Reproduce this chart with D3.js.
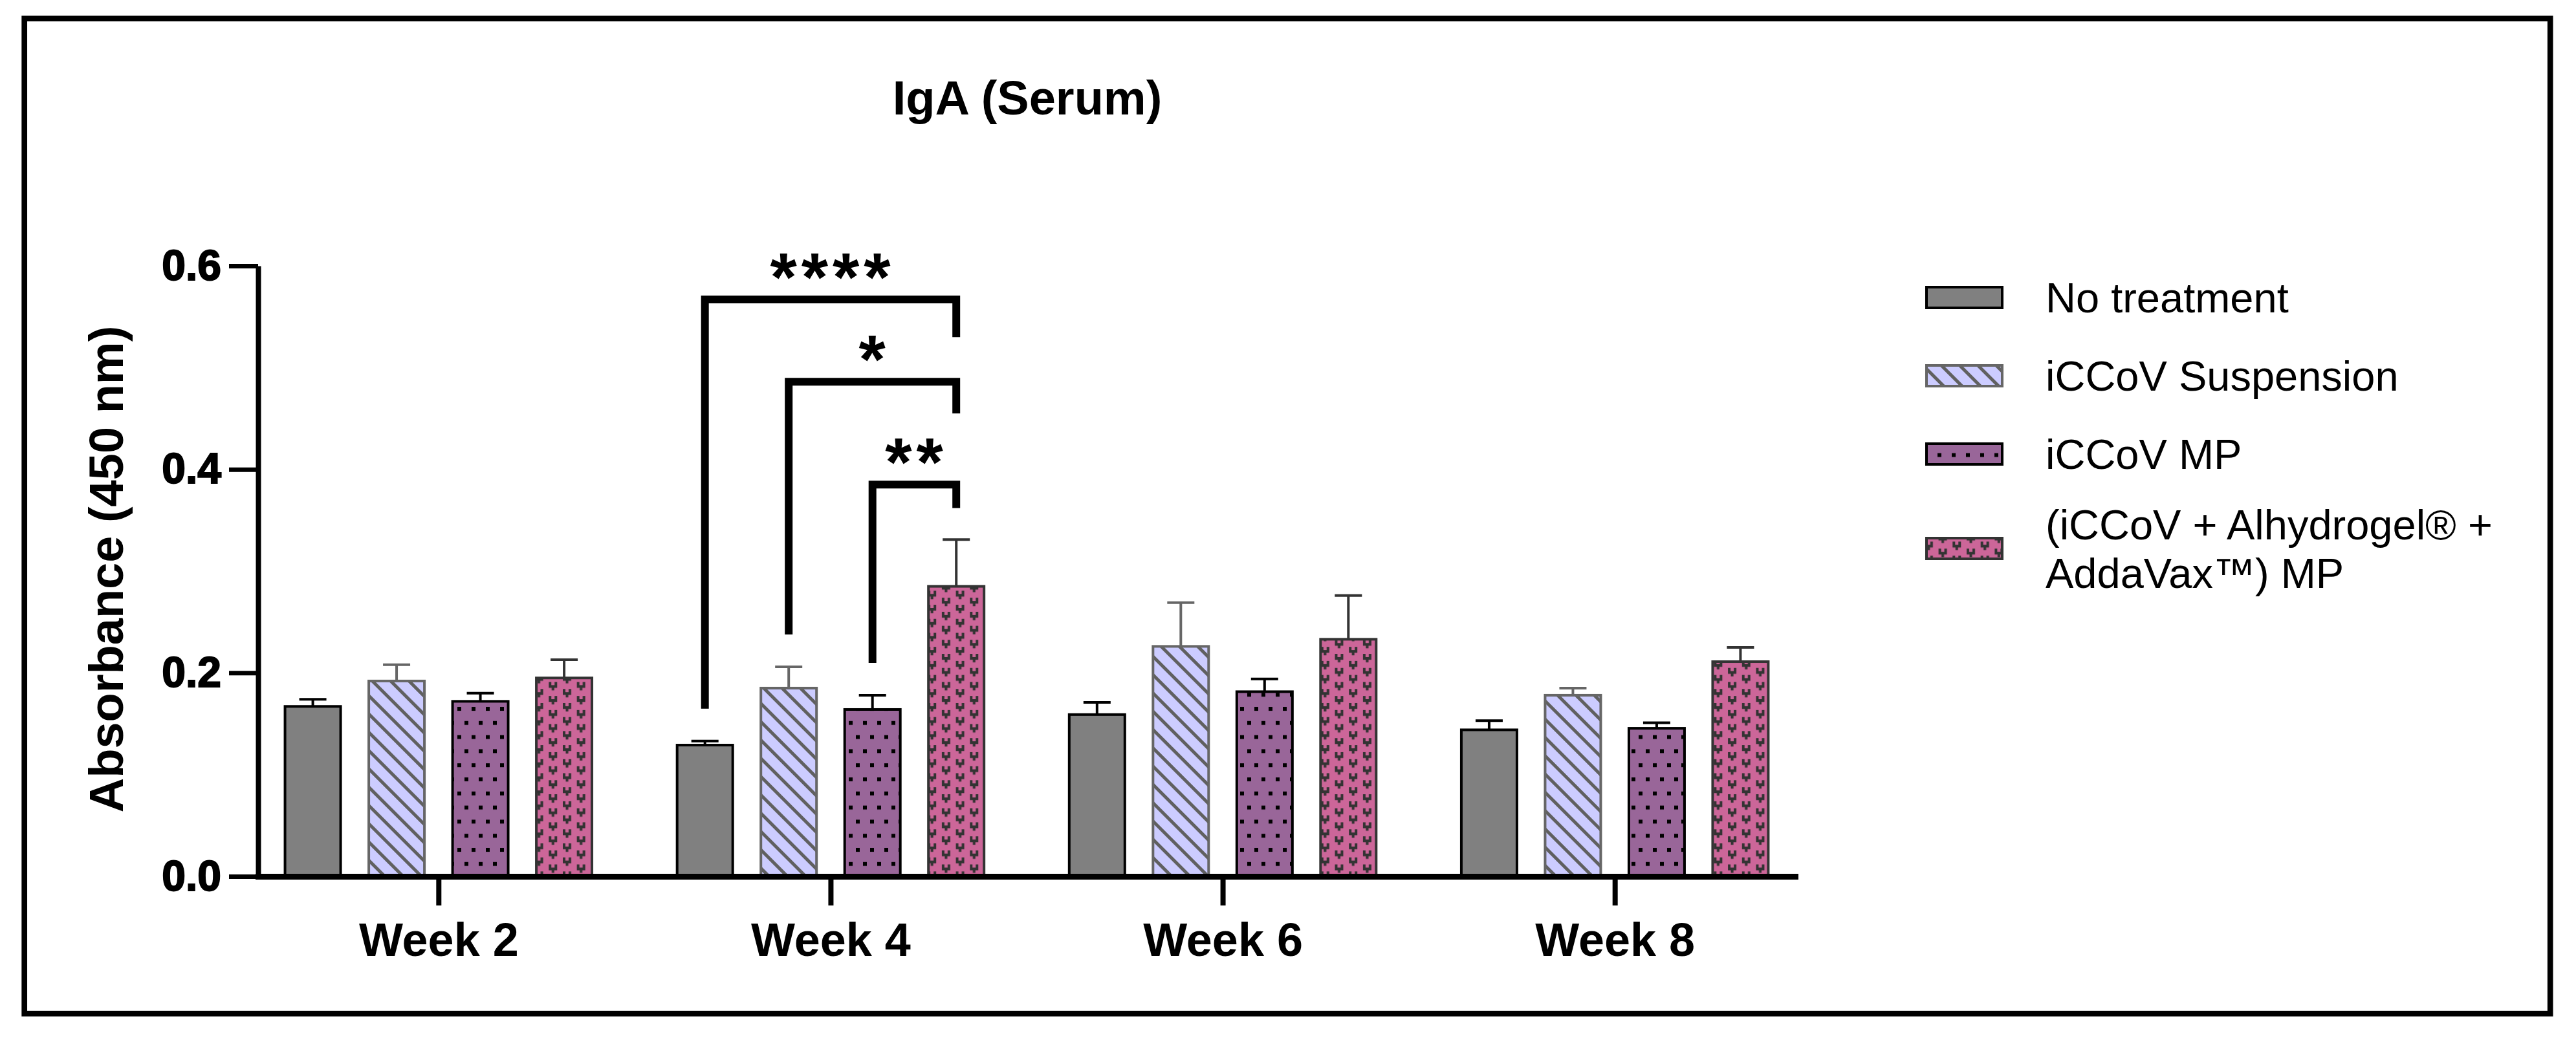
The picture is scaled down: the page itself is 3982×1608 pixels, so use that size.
<!DOCTYPE html>
<html>
<head>
<meta charset="utf-8">
<script src="https://cdn.jsdelivr.net/npm/d3@7"></script>
<style>
  html, body { margin: 0; padding: 0; background: #fff; }
  svg text { font-family: "Liberation Sans", Arial, sans-serif; }
</style>
</head>
<body>
<svg id="chart" width="3982" height="1608"></svg>
<script>
// data
const weeks = ["Week 2", "Week 4", "Week 6", "Week 8"];
const groups = ["No treatment", "iCCoV Suspension", "iCCoV MP", "(iCCoV + Alhydrogel® + AddaVax™) MP"];
const legendLines = [["No treatment"], ["iCCoV Suspension"], ["iCCoV MP"], ["(iCCoV + Alhydrogel® +", "AddaVax™) MP"]];

const noTreatment   = [0.167, 0.129, 0.159, 0.144];
const suspension    = [0.192, 0.185, 0.226, 0.178];
const mp            = [0.172, 0.164, 0.1815, 0.1455];
const adjuvantMp    = [0.195, 0.285, 0.233, 0.211];

const noTreatmentSd = [0.007, 0.004, 0.012, 0.009];
const suspensionSd  = [0.016, 0.021, 0.043, 0.007];
const mpSd          = [0.008, 0.014, 0.0125, 0.0055];
const adjuvantMpSd  = [0.018, 0.046, 0.043, 0.014];

const yTicks = [0, 0.2, 0.4, 0.6];

// significance brackets (level / tip in absorbance units)
const comparisons = [
  { week: "Week 4", from: "No treatment",     to: groups[3], label: "****", level: 0.567, tip: 0.530 },
  { week: "Week 4", from: "iCCoV Suspension", to: groups[3], label: "*",    level: 0.486, tip: 0.455 },
  { week: "Week 4", from: "iCCoV MP",         to: groups[3], label: "**",   level: 0.385, tip: 0.362 }
];

const means = [noTreatment, suspension, mp, adjuvantMp];
const sds = [noTreatmentSd, suspensionSd, mpSd, adjuvantMpSd];

// look of each series
const styles = [
  { fill: "#808080",        stroke: "#000000", err: "#000000" },
  { fill: "url(#stripes)",  stroke: "#666666", err: "#666666" },
  { fill: "url(#dots)",     stroke: "#000000", err: "#000000" },
  { fill: "url(#antibody)", stroke: "#333333", err: "#333333" }
];

const svg = d3.select("#chart");

// patterns
const defs = svg.append("defs");
const stripes = defs.append("pattern").attr("id", "stripes")
  .attr("patternUnits", "userSpaceOnUse").attr("width", 20).attr("height", 20)
  .attr("patternTransform", "rotate(-45)");
stripes.append("rect").attr("width", 20).attr("height", 20).attr("fill", "#ccccff");
stripes.append("rect").attr("width", 5).attr("height", 20).attr("fill", "#606060");

const dots = defs.append("pattern").attr("id", "dots")
  .attr("patternUnits", "userSpaceOnUse").attr("width", 22).attr("height", 43.6);
dots.append("rect").attr("width", 22).attr("height", 43.6).attr("fill", "#996699");
dots.append("rect").attr("x", 3).attr("y", 3).attr("width", 6).attr("height", 6).attr("fill", "#000");
dots.append("rect").attr("x", 14).attr("y", 24.8).attr("width", 6).attr("height", 6).attr("fill", "#000");

const ab = defs.append("pattern").attr("id", "antibody")
  .attr("patternUnits", "userSpaceOnUse").attr("width", 43.4).attr("height", 21.7);
ab.append("rect").attr("width", 43.4).attr("height", 21.7).attr("fill", "#cc6699");
const glyph = "M0,0h4v5h5v-5h4v9h-4.5v4h-4v-4h-4.5z";
[[2, 2], [23.7, 12.85], [23.7, -8.85]].forEach(p => {
  ab.append("path").attr("d", glyph).attr("fill", "#333").attr("transform", `translate(${p[0]},${p[1]})`);
});

// frame
svg.append("rect").attr("x", 37.7).attr("y", 28.7).attr("width", 3904.5).attr("height", 1538.5)
  .attr("fill", "none").attr("stroke", "#000").attr("stroke-width", 8.7);

// scales
const y = d3.scaleLinear().domain([0, 0.6]).range([1355, 411]);
const x = d3.scalePoint().domain(weeks).range([399, 2775]).padding(0.46);
const xs = d3.scaleBand().domain(groups).range([-259, 259]).paddingInner(0.336).paddingOuter(0.168);

// title
svg.append("text").attr("x", 1588).attr("y", 177).attr("text-anchor", "middle")
  .attr("font-size", 74).attr("font-weight", "bold").text("IgA (Serum)");

// y label
svg.append("text").attr("transform", "translate(190,880) rotate(-90)").attr("text-anchor", "middle")
  .attr("font-size", 74).attr("font-weight", "bold").text("Absorbance (450 nm)");

// bars
const rows = weeks.flatMap((w, i) => groups.map((g, j) => ({ week: w, group: g, j: j, mean: means[j][i], sd: sds[j][i] })));

svg.append("g").selectAll("rect").data(rows).join("rect")
  .attr("x", d => x(d.week) + xs(d.group))
  .attr("y", d => y(d.mean))
  .attr("width", xs.bandwidth())
  .attr("height", d => y(0) - y(d.mean))
  .attr("fill", d => styles[d.j].fill)
  .attr("stroke", d => styles[d.j].stroke)
  .attr("stroke-width", 4);

// error bars (upper only)
const eb = svg.append("g").selectAll("g").data(rows).join("g")
  .attr("stroke", d => styles[d.j].err).attr("stroke-width", 4);
eb.append("line")
  .attr("x1", d => x(d.week) + xs(d.group) + xs.bandwidth() / 2)
  .attr("x2", d => x(d.week) + xs(d.group) + xs.bandwidth() / 2)
  .attr("y1", d => y(d.mean)).attr("y2", d => y(d.mean + d.sd));
eb.append("line")
  .attr("x1", d => x(d.week) + xs(d.group) + xs.bandwidth() / 2 - 21)
  .attr("x2", d => x(d.week) + xs(d.group) + xs.bandwidth() / 2 + 21)
  .attr("y1", d => y(d.mean + d.sd)).attr("y2", d => y(d.mean + d.sd));

// axes
const yAxis = svg.append("g").attr("transform", "translate(399,0)")
  .call(d3.axisLeft(y).tickValues(yTicks).tickFormat(d3.format(".1f")).tickSize(45).tickSizeOuter(0).tickPadding(12));
yAxis.select(".domain").attr("stroke-width", 8);
yAxis.selectAll(".tick line").attr("stroke-width", 7);
yAxis.selectAll(".tick text").attr("font-size", 66).attr("font-weight", "bold")
  .attr("font-family", "'Liberation Sans', Arial, sans-serif").attr("stroke", "#000").attr("stroke-width", 2);

const xAxis = svg.append("g").attr("transform", "translate(0,1355)")
  .call(d3.axisBottom(x).tickSize(45).tickSizeOuter(0).tickPadding(27));
xAxis.select(".domain").attr("stroke-width", 9).attr("stroke-linecap", "square");
xAxis.selectAll(".tick line").attr("stroke-width", 8);
xAxis.selectAll(".tick text").attr("font-size", 72).attr("font-weight", "bold")
  .attr("font-family", "'Liberation Sans', Arial, sans-serif");

// significance brackets
const centerOf = (w, g) => x(w) + xs(g) + xs.bandwidth() / 2;
const topOf = (w, g) => {
  const i = weeks.indexOf(w), j = groups.indexOf(g);
  return y(means[j][i] + sds[j][i]);
};
const br = svg.append("g");
comparisons.forEach(c => {
  const xl = centerOf(c.week, c.from), xr = centerOf(c.week, c.to);
  const yb = y(c.level);
  br.append("path")
    .attr("d", `M${xl},${topOf(c.week, c.from) - 50}V${yb}H${xr}V${y(c.tip)}`)
    .attr("fill", "none").attr("stroke", "#000").attr("stroke-width", 12).attr("stroke-linejoin", "miter");
  br.append("text").attr("x", (xl + xr) / 2 + 3).attr("y", yb + 2).attr("text-anchor", "middle")
    .attr("font-size", 106).attr("font-weight", "bold").attr("letter-spacing", 7).text(c.label);
});

// legend
const legend = svg.append("g");
let ly = 460;
legendLines.forEach((lines, j) => {
  if (j > 0) ly += 121 + (lines.length - 1) * 25;
  legend.append("rect").attr("x", 2978).attr("y", ly - 16).attr("width", 117).attr("height", 32)
    .attr("fill", styles[j].fill).attr("stroke", styles[j].stroke).attr("stroke-width", 4);
  const t = legend.append("text").attr("font-size", 65).attr("x", 3162);
  lines.forEach((s, k) => {
    t.append("tspan").attr("x", 3162)
      .attr("y", ly + 23 - (lines.length - 1) * 37.5 + k * 75).text(s);
  });
});
</script>
</body>
</html>
